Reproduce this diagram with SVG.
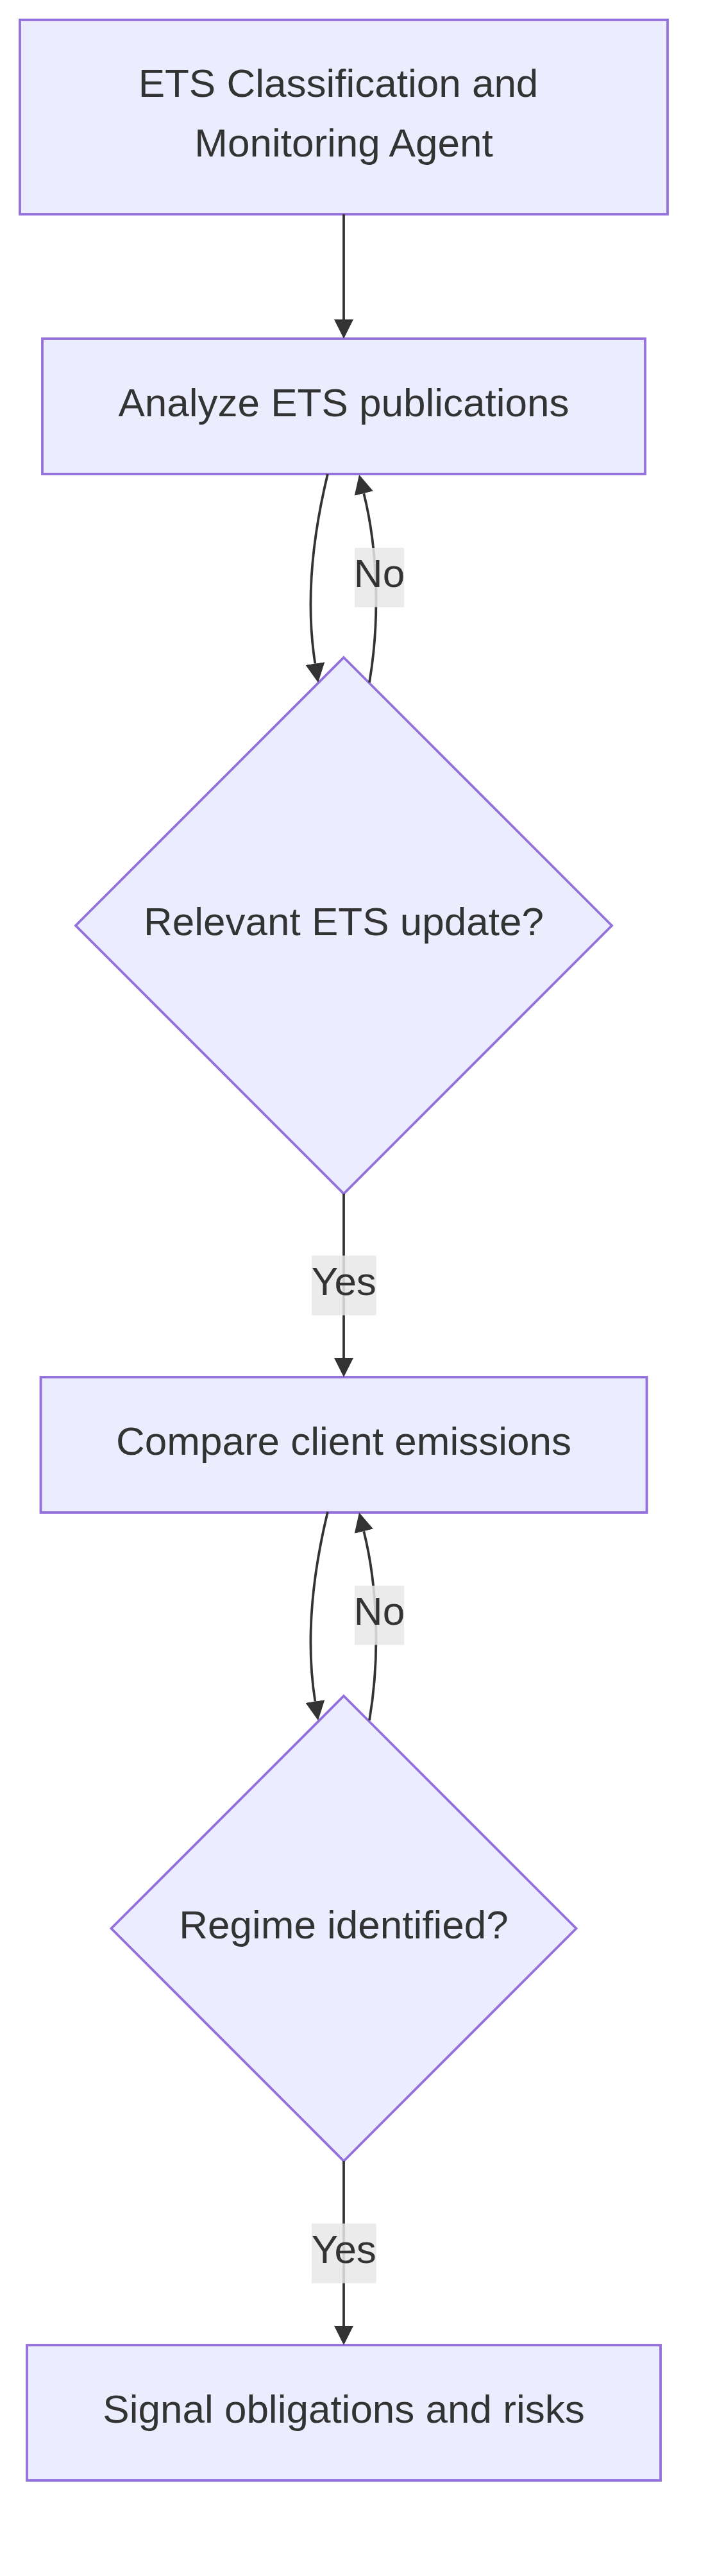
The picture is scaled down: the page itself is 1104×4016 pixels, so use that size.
<svg xmlns="http://www.w3.org/2000/svg" width="1104" height="4016" viewBox="0 0 1104 4016">
<style>
.node{fill:#ECECFF;stroke:#9370DB;stroke-width:3.8}
.lbl{font-family:"Liberation Sans",Arial,sans-serif;font-size:62px;fill:#333333;text-anchor:middle}
.edge{fill:none;stroke:#333333;stroke-width:3.8}
.ebg{fill:#e8e8e8;fill-opacity:0.85}
</style>
<defs>
<marker id="arrow" viewBox="0 0 10 10" refX="0" refY="5" markerUnits="userSpaceOnUse" markerWidth="30" markerHeight="30" orient="auto">
<path d="M0,0 L10,5 L0,10 z" fill="#333333"/>
</marker>
</defs>
<rect width="1104" height="4016" fill="#ffffff"/>
<g id="nodes">
<g id="node-agent">
<rect class="node" x="31" y="31" width="1010" height="303"/>
<text class="lbl" x="527.5" y="150.5">ETS Classification and</text>
<text class="lbl" x="536" y="243.5">Monitoring Agent</text>
</g>
<g id="node-analyze">
<rect class="node" x="66" y="528" width="940" height="211"/>
<text class="lbl" x="536" y="648.5">Analyze ETS publications</text>
</g>
<g id="node-relevant">
<polygon class="node" points="536,1025 954,1443 536,1861 118,1443"/>
<text class="lbl" x="536" y="1458">Relevant ETS update?</text>
</g>
<g id="node-compare">
<rect class="node" x="63.5" y="2147" width="945" height="211"/>
<text class="lbl" x="536" y="2267.5">Compare client emissions</text>
</g>
<g id="node-regime">
<polygon class="node" points="536,2644 898.5,3006.5 536,3369 173.5,3006.5"/>
<text class="lbl" x="536" y="3021.5">Regime identified?</text>
</g>
<g id="node-signal">
<rect class="node" x="42" y="3656" width="988" height="211"/>
<text class="lbl" x="536" y="3776.5">Signal obligations and risks</text>
</g>
</g>
<g id="connectors">
<path class="edge" d="M536,334 L536,498" marker-end="url(#arrow)"/>
<path class="edge" d="M511,739 C484,850 478,950 491.4,1034.5" marker-end="url(#arrow)"/>
<path class="edge" d="M576,1064 C592,970 590,860 567.3,769.2" marker-end="url(#arrow)"/>
<path class="edge" d="M536,1861 L536,2117" marker-end="url(#arrow)"/>
<path class="edge" d="M511,2357 C484,2468 478,2568 491.4,2652.5" marker-end="url(#arrow)"/>
<path class="edge" d="M576,2682 C592,2588 590,2478 567.3,2387.2" marker-end="url(#arrow)"/>
<path class="edge" d="M536,3369 L536,3626" marker-end="url(#arrow)"/>
</g>
<g id="edge-labels">
<g id="label-no-1">
<rect class="ebg" x="553" y="854" width="77" height="92.5"/>
<text class="lbl" x="591.5" y="915">No</text>
</g>
<g id="label-yes-1">
<rect class="ebg" x="486" y="1957.5" width="100.6" height="93"/>
<text class="lbl" x="536.3" y="2019">Yes</text>
</g>
<g id="label-no-2">
<rect class="ebg" x="553" y="2472" width="77" height="92.5"/>
<text class="lbl" x="591.5" y="2533">No</text>
</g>
<g id="label-yes-2">
<rect class="ebg" x="486" y="3466.5" width="100.6" height="93"/>
<text class="lbl" x="536.3" y="3527.5">Yes</text>
</g>
</g>
</svg>
